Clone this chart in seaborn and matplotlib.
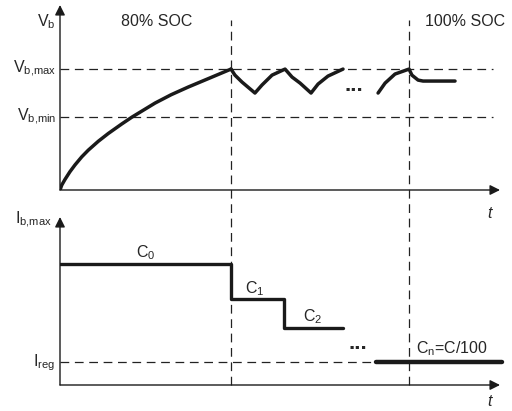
import matplotlib
matplotlib.use("Agg")
import matplotlib.pyplot as plt
import seaborn as sns

# battery voltage (t in arbitrary units, V normalised to V_b,max)
t_rise = [0, 0.10, 0.29, 0.58, 0.88, 1.27, 1.65, 2.24, 2.82, 3.61, 4.21, 5.56,
          6.50, 7.49, 8.89, 10.0]
v_rise = [0, 0.040, 0.087, 0.151, 0.208, 0.274, 0.329, 0.403, 0.467, 0.546, 0.603,
          0.719, 0.788, 0.851, 0.934, 1.0]
t_pulse = [10.0, 10.23, 10.64, 11.40, 11.81, 12.40, 13.16, 13.57, 14.04, 14.68, 15.09, 15.67, 16.55]
v_pulse = [1.0, 0.95, 0.893, 0.802, 0.868, 0.95, 1.0, 0.934, 0.884, 0.802, 0.876, 0.942, 1.0]
t_end = [18.60, 19.01, 19.59, 20.41, 20.58, 20.94, 21.23, 23.10]
v_end = [0.802, 0.884, 0.959, 1.0, 0.95, 0.909, 0.901, 0.901]

v_max = 1.0
v_min = 0.603
t_soc = [10.0, 20.41]

# charge current steps (normalised to C0)
t_steps = [0, 10.0, 13.10, 16.55]
i_steps = [1.0, 0.711, 0.471, 0.471]
t_cn = [18.48, 25.85]
i_reg = 0.19

T_END = 25.73

sns.set_theme(style="white")
plt.rcParams["font.family"] = ["Liberation Sans", "DejaVu Sans"]
plt.rcParams["mathtext.default"] = "regular"

W, H = 512, 411
fig = plt.figure(figsize=(W / 100, H / 100), dpi=100)


def box(x0, y0, x1, y1):
    # pixel box (left, top, right, bottom) -> figure fraction rect
    return [x0 / W, 1 - y1 / H, (x1 - x0) / W, (y1 - y0) / H]


def px(x, y):
    return x / W, 1 - y / H


ax_v = fig.add_axes(box(60, 5, 500, 190))
ax_i = fig.add_axes(box(60, 217, 500, 385))

dash = dict(color="#222222", lw=0.9, ls=(0, (7, 4.5)))
arrow = dict(arrowstyle="-|>", lw=1.0, color="k", mutation_scale=15, shrinkA=0, shrinkB=0)

for ax in (ax_v, ax_i):
    ax.set_xlim(0, T_END)
    for s in ax.spines.values():
        s.set_visible(False)
    ax.set_xticks([])
    ax.set_yticks([])
    ax.patch.set_alpha(0)
    ax.annotate("", xy=(1, 0), xytext=(0, 0), xycoords="axes fraction", arrowprops=arrow)
    ax.annotate("", xy=(0, 1), xytext=(0, 0), xycoords="axes fraction", arrowprops=arrow)

# top panel: voltage
ax_v.set_ylim(0, 1.53)
for lvl in (v_max, v_min):
    ax_v.plot([0, 25.32], [lvl, lvl], zorder=1, **dash)
for seg_t, seg_v in ((t_rise, v_rise), (t_pulse, v_pulse), (t_end, v_end)):
    sns.lineplot(x=seg_t, y=seg_v, ax=ax_v, color="k", lw=2.5, sort=False,
                 estimator=None, zorder=3)

# bottom panel: current
ax_i.set_ylim(0, 1.388)
ax_i.plot([0, t_cn[0]], [i_reg, i_reg], zorder=1, **dash)
top_dash = (385 - 20) / 121 * 1.0
for t in t_soc:
    ax_i.plot([t, t], [0, top_dash], clip_on=False, zorder=1, **dash)
sns.lineplot(x=t_steps, y=i_steps, ax=ax_i, color="k", lw=2.4, sort=False,
             estimator=None, drawstyle="steps-post", zorder=3)
sns.lineplot(x=t_cn, y=[i_reg, i_reg], ax=ax_i, color="k", lw=3.2, sort=False,
             estimator=None, zorder=3, clip_on=False)

fs = 11.5
fig.text(*px(37, 22), "$V_b$", fontsize=fs, va="center")
fig.text(*px(157, 22), "80% SOC", fontsize=fs, va="center", ha="center")
fig.text(*px(465, 22), "100% SOC", fontsize=fs, va="center", ha="center")
fig.text(*px(13, 69), "$V_{b{,}max}$", fontsize=fs, va="center")
fig.text(*px(17, 117), "$V_{b{,}min}$", fontsize=fs, va="center")
fig.text(*px(15, 220), "$I_{b{,}max}$", fontsize=fs, va="center")
fig.text(*px(33, 363), "$I_{reg}$", fontsize=fs, va="center")
fig.text(*px(146, 253), "$C_0$", fontsize=fs, va="center", ha="center")
fig.text(*px(255, 289), "$C_1$", fontsize=fs, va="center", ha="center")
fig.text(*px(313, 317), "$C_2$", fontsize=fs, va="center", ha="center")
fig.text(*px(452, 349), "$C_n$=C/100", fontsize=fs, va="center", ha="center")
fig.text(*px(490, 213), "t", fontsize=fs, va="center", ha="center", style="italic")
fig.text(*px(490, 401), "t", fontsize=fs, va="center", ha="center", style="italic")
fig.text(*px(354, 91), "...", fontsize=16, fontweight="bold", va="baseline", ha="center")
fig.text(*px(358, 349), "...", fontsize=16, fontweight="bold", va="baseline", ha="center")

fig.savefig("out.png", dpi=100)
